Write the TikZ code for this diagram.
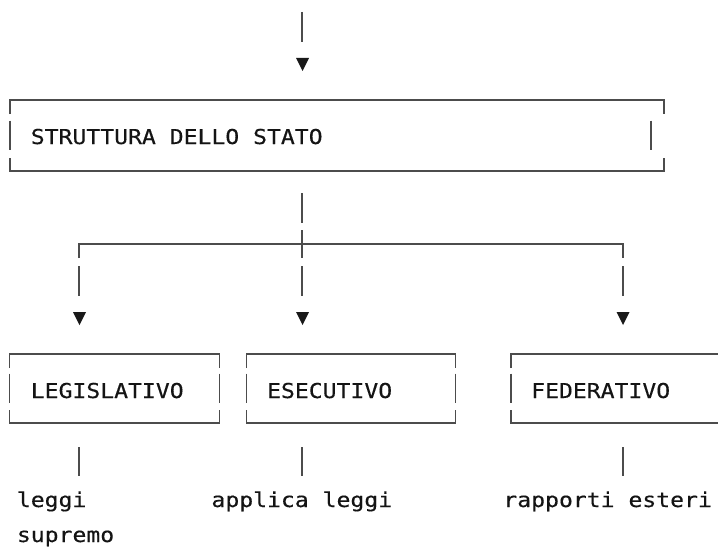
\documentclass[tikz,border=0pt]{standalone}
\usepackage{fontspec}
\newfontfamily\asciimono[FakeStretch=1.126,FakeBold=0.4]{DejaVu Sans Mono}
\usetikzlibrary{calc}
\tikzset{
  ln/.style={draw=black!70,line width=1.4pt},
  lbl/.style={anchor=base west,inner sep=0pt,outer sep=0pt,
    font=\asciimono\fontsize{20.5}{24}\selectfont,text=black!92},
  frame/.style={draw=none,inner sep=0pt,outer sep=0pt},
  tri/.pic={\fill[black!90] (-6.5,0) -- (6.5,0) -- (0,13) -- cycle;}
}
\newcommand\asciiframe[2]{%
  \draw[ln] ($(#1.north west)+(0,14)$) -- (#1.north west) -- (#1.north east) -- ($(#1.north east)+(0,14)$);
  \draw[ln] ($(#1.south west)+(0,-13)$) -- (#1.south west) -- (#1.south east) -- ($(#1.south east)+(0,-13)$);
  \draw[ln] ($(#1.west)+(0,-15)$) -- ($(#1.west)+(0,14)$);
  \draw[ln] ($(#1.east)+(-#2,-15)$) -- ($(#1.east)+(-#2,14)$);
}
\begin{document}
\begin{tikzpicture}[x=1pt,y=-1pt]
\useasboundingbox (0,0) rectangle (718,551);
\clip (0,0) rectangle (718,551);

% frames
\node[frame,minimum width=654pt,minimum height=71pt] (stato) at (337,135.5) {};
\node[frame,minimum width=210pt,minimum height=69pt] (leg) at (114.5,388.5) {};
\node[frame,minimum width=208.8pt,minimum height=69pt] (ese) at (351.1,388.5) {};
\node[frame,minimum width=221.8pt,minimum height=69pt] (fed) at (621.9,388.5) {};
\asciiframe{stato}{13}
\asciiframe{leg}{0}
\asciiframe{ese}{0}
\asciiframe{fed}{0}

% texts
\node[lbl] (tstato) at (30.8,144) {STRUTTURA DELLO STATO};
\node[lbl] (tleg) at (30.8,398) {LEGISLATIVO};
\node[lbl] (tese) at (267.1,398) {ESECUTIVO};
\node[lbl] (tfed) at (531.2,398) {FEDERATIVO};
\node[lbl] (leggi) at (16.9,507) {leggi};
\node[lbl] (supremo) at (16.9,542) {supremo};
\node[lbl] (applica) at (211.5,507) {applica leggi};
\node[lbl] (rapporti) at (503.4,507) {rapporti esteri};

% incoming connector
\coordinate (in) at (302,12);
\draw[ln] (in) -- ++(0,30);
\pic at ($(in)+(0.5,46)$) {tri};

% trunk and branches
\coordinate (jL) at (79,244);
\coordinate (jC) at (302,244);
\coordinate (jR) at (623,244);
\draw[ln] ($(jC)+(0,-51)$) -- ++(0,30);
\draw[ln] ($(jC)+(0,-14)$) -- ++(0,28);
\draw[ln] ($(jL)+(0,14)$) -- (jL) -- (jR) -- ++(0,14);
\foreach \j/\dx in {jL/0.5,jC/0.5,jR/0} {
  \draw[ln] ($(\j)+(0,22)$) -- ++(0,30);
  \pic at ($(\j)+(\dx,68)$) {tri};
  \draw[ln] ($(\j)+(0,203)$) -- ++(0,29);
}
\end{tikzpicture}
\end{document}
